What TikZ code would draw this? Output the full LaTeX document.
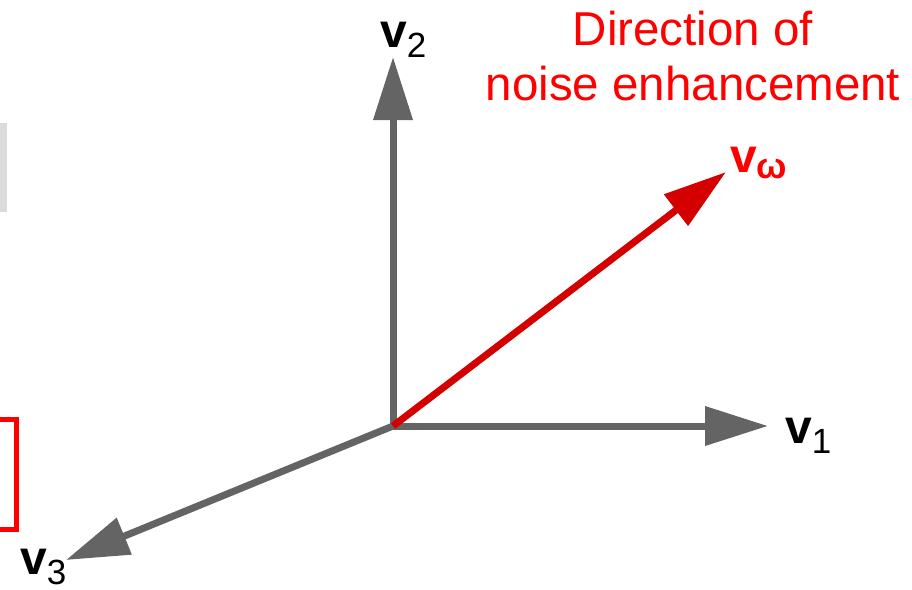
\documentclass[tikz,border=0pt]{standalone}
\usepackage{fontspec}
\setmainfont{Liberation Sans}
\usetikzlibrary{arrows.meta}
\definecolor{axisgray}{RGB}{100,100,100}
\definecolor{arrowred}{RGB}{212,0,0}
\definecolor{textred}{RGB}{255,0,0}
\tikzstyle{axis} = [line width=7pt, draw=axisgray,
    -{Triangle[length=63pt, width=38pt]}]
\tikzstyle{noise} = [axis, draw=arrowred]
\tikzstyle{vlabel} = [inner sep=0pt, anchor=base west]
\newcommand{\vsub}[1]{{\fontsize{48}{48}\selectfont\bfseries v}%
  \raisebox{-10pt}{\fontsize{35}{35}\selectfont #1}}

\begin{document}
\begin{tikzpicture}[x=1pt, y=-1pt]
\useasboundingbox (0,0) rectangle (912,589);
% left-over pieces at the edge
\fill[black!14] (0,123) rectangle (7,212);
\draw[textred, line width=5pt] (-5,419.5) -- (16.5,419.5) -- (16.5,529.5) -- (-5,529.5);
% origin and arrow tips
\coordinate (o) at (393,426);
\coordinate (t1) at (768,426);
\coordinate (t2) at (393,57);
\coordinate (t3) at (66,560);
\coordinate (tw) at (726,172);
\draw[axis] (o) -- (t1);
\draw[axis] (o) -- (t2);
\draw[axis] (o) -- (t3);
\draw[noise] (o) -- (tw);
% labels
\node[vlabel] (l1) at (785,443) {\vsub{1}};
\node[vlabel] (l2) at (380,47) {\vsub{2}};
\node[vlabel] (l3) at (20,574) {\vsub{3}};
\node[vlabel, text=textred] (lw) at (730,172)
  {{\fontsize{48}{48}\selectfont\bfseries v}\raisebox{-6pt}{\fontsize{36}{36}\selectfont\bfseries ω}};
\node[text=textred, align=center, anchor=base, inner sep=0pt,
  font=\fontsize{47.5}{55}\selectfont] (dir) at (693,100)
  {Direction of\\noise enhancement};
\end{tikzpicture}
\end{document}
